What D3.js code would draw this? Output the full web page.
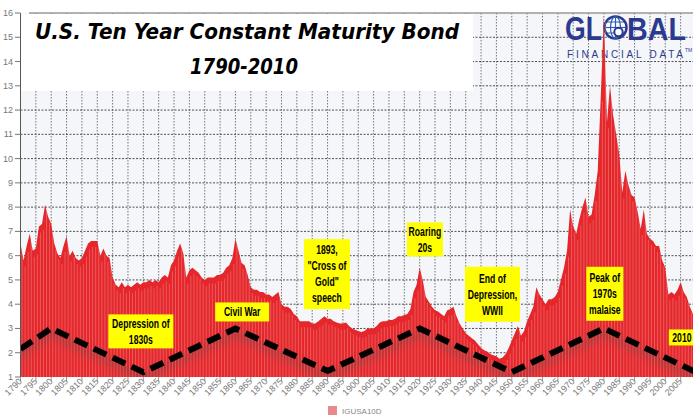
<!DOCTYPE html>
<html>
<head>
<meta charset="utf-8">
<script src="https://cdn.jsdelivr.net/npm/d3@7"></script>
<style>
  body { margin: 0; background: #fff; }
  svg { display: block; font-family: "Liberation Sans", Arial, sans-serif; }
</style>
</head>
<body>
<div id="chart"></div>
<script>
// yearly 10 year yields, 1790 .. 2010
const firstYear = 1790;
const yields = [
  6.5, 5.8, 6.4, 6.9, 6.2, 6.3, 7.2, 7.3, 8.1, 7.6,   // 1790s
  7.3, 6.5, 6.1, 5.9, 6.4, 6.8, 6.0, 6.2, 5.9, 5.8,   // 1800s
  5.9, 6.2, 6.5, 6.6, 6.6, 6.6, 6.0, 6.3, 6.0, 5.9,   // 1810s
  5.1, 4.8, 4.7, 4.9, 4.7, 4.8, 4.7, 4.8, 4.9, 4.8,   // 1820s
  4.9, 4.9, 5.0, 4.9, 5.0, 4.9, 5.1, 5.2, 5.1, 5.6,   // 1830s
  5.8, 6.2, 6.5, 6.1, 5.1, 5.4, 5.5, 5.4, 5.3, 5.1,   // 1840s
  5.0, 5.1, 5.1, 5.1, 5.2, 5.2, 5.3, 5.5, 5.6, 5.9,   // 1850s
  6.7, 6.2, 5.7, 5.6, 5.2, 4.7, 4.6, 4.6, 4.5, 4.5,   // 1860s
  4.4, 4.4, 4.3, 4.4, 4.5, 4.0, 3.9, 3.9, 3.8, 3.6,   // 1870s
  3.5, 3.3, 3.3, 3.3, 3.3, 3.2, 3.2, 3.3, 3.4, 3.5,   // 1880s
  3.4, 3.4, 3.3, 3.25, 3.2, 3.2, 3.25, 3.1, 3.0, 2.95, // 1890s
  2.9, 2.85, 2.9, 3.0, 3.0, 3.0, 3.1, 3.25, 3.3, 3.3, // 1900s
  3.35, 3.35, 3.4, 3.5, 3.5, 3.55, 3.6, 3.8, 4.5, 4.8, // 1910s
  5.5, 5.0, 4.3, 4.1, 3.9, 3.75, 3.7, 3.6, 3.5, 3.75, // 1920s
  3.8, 3.9, 3.5, 3.2, 3.0, 2.8, 2.7, 2.6, 2.5, 2.35,  // 1930s
  2.2, 2.1, 2.05, 1.95, 1.9, 1.85, 1.75, 1.8, 1.95, 2.2, // 1940s
  2.5, 2.8, 3.1, 2.7, 2.9, 3.3, 3.6, 3.9, 4.7, 4.4,   // 1950s
  4.2, 4.0, 4.2, 4.2, 4.3, 4.5, 5.0, 5.5, 6.2, 7.9,   // 1960s
  7.2, 6.9, 7.5, 8.0, 8.4, 7.6, 7.7, 8.5, 9.5, 12.6,  // 1970s
  15.9, 11.5, 13.0, 11.8, 11.0, 10.2, 8.6, 9.5, 8.9, 8.5, // 1980s
  8.4, 7.8, 7.1, 7.9, 6.9, 6.7, 6.6, 6.4, 6.4, 5.8,   // 1990s
  5.5, 4.4, 4.5, 4.4, 4.6, 4.9, 4.5, 4.3, 3.9, 3.6,   // 2000s
  3.4                                                 // 2010
];

const xTickYears = [1790, 1795, 1800, 1805, 1810, 1815, 1820, 1825, 1830, 1835,
  1840, 1845, 1850, 1855, 1860, 1865, 1870, 1875, 1880, 1885, 1890, 1895, 1900,
  1905, 1910, 1915, 1920, 1925, 1930, 1935, 1940, 1945, 1950, 1955, 1960, 1965,
  1970, 1975, 1980, 1985, 1990, 1995, 2000, 2005];
const yTicks = [1, 2, 3, 4, 5, 6, 7, 8, 9, 10, 11, 12, 13, 14, 15, 16];

// the hand drawn dashed cycle line
const cycleYears = [1790, 1800, 1830, 1860, 1890, 1920, 1950, 1980, 2010];
const cycleValues = [2.15, 3.0, 1.2, 3.0, 1.25, 3.0, 1.2, 3.0, 1.2];

// yellow notes: text lines, centre (year, yield), box size in px
const notes = [
  { lines: ["Depression of", "1830s"], year: 1829.2, value: 2.88, w: 65, h: 34 },
  { lines: ["Civil War"], year: 1862.2, value: 3.68, w: 54, h: 19 },
  { lines: ["1893,", "\"Cross of", "Gold\"", "speech"], year: 1889.8, value: 5.24, w: 46, h: 70 },
  { lines: ["Roaring", "20s"], year: 1921.7, value: 6.67, w: 36, h: 34 },
  { lines: ["End of", "Depression,", "WWII"], year: 1943.7, value: 4.41, w: 55, h: 55 },
  { lines: ["Peak of", "1970s", "malaise"], year: 1980.3, value: 4.43, w: 37, h: 54 },
  { lines: ["2010"], year: 2005.4, value: 2.63, w: 26, h: 16 }
];

const series = yields.map((v, i) => ({ year: firstYear + i, value: v }));

const width = 693, height = 419;
const x = d3.scaleLinear().domain([1790, 2010]).range([20.5, 696]);
const y = d3.scaleLinear().domain([1, 16]).range([377, 13]);

const svg = d3.select("#chart").append("svg")
  .attr("width", width)
  .attr("height", height);

const defs = svg.append("defs");
defs.append("filter").attr("id", "soft")
  .attr("x", "-10%").attr("y", "-50%").attr("width", "120%").attr("height", "200%")
  .append("feGaussianBlur").attr("stdDeviation", 3);
defs.append("clipPath").attr("id", "plotClip")
  .append("rect").attr("x", 20.5).attr("y", 0).attr("width", width - 20.5).attr("height", 377);

// plot background
svg.append("rect")
  .attr("x", 20.5).attr("y", 13)
  .attr("width", width - 20.5).attr("height", 364)
  .attr("fill", "#f4f6f9");

// grid
const grid = svg.append("g").attr("class", "grid");
grid.selectAll("line.v")
  .data(xTickYears.slice(1))
  .enter().append("line")
  .attr("class", "v")
  .attr("x1", d => x(d)).attr("x2", d => x(d))
  .attr("y1", 13).attr("y2", 377)
  .attr("stroke", "#444").attr("stroke-opacity", 0.8)
  .attr("stroke-width", 0.9)
  .attr("stroke-dasharray", "1.5,1.5");
grid.selectAll("line.h")
  .data(yTicks.slice(1, -1))
  .enter().append("line")
  .attr("class", "h")
  .attr("x1", 20.5).attr("x2", width)
  .attr("y1", d => y(d)).attr("y2", d => y(d))
  .attr("stroke", "#333").attr("stroke-opacity", 0.85)
  .attr("stroke-width", 1)
  .attr("stroke-dasharray", "2,1.5");

// white block behind the title
svg.append("rect")
  .attr("x", 21).attr("y", 14)
  .attr("width", 452).attr("height", 77)
  .attr("fill", "#ffffff");

// top border
svg.append("line")
  .attr("x1", 29).attr("x2", width)
  .attr("y1", 13).attr("y2", 13)
  .attr("stroke", "#999").attr("stroke-width", 1.5);

// logo
const logo = svg.append("g").attr("fill", "#2b3a8e");
logo.append("text")
  .attr("x", 565).attr("y", 40)
  .attr("font-size", 34).attr("font-weight", "bold")
  .attr("textLength", 37).attr("lengthAdjust", "spacingAndGlyphs")
  .text("GL");
logo.append("text")
  .attr("x", 627).attr("y", 40)
  .attr("font-size", 32).attr("font-weight", "bold")
  .attr("textLength", 59).attr("lengthAdjust", "spacingAndGlyphs")
  .text("BAL");
const globe = logo.append("g").attr("fill", "none").attr("stroke", "#2b5cb0");
globe.append("circle").attr("cx", 615.5).attr("cy", 27.5).attr("r", 11).attr("stroke-width", 2.5).attr("stroke", "#2b3a8e").attr("fill", "#fff");
globe.append("ellipse").attr("cx", 615.5).attr("cy", 27.5).attr("rx", 5).attr("ry", 11).attr("stroke-width", 1.2);
globe.append("line").attr("x1", 615.5).attr("x2", 615.5).attr("y1", 17).attr("y2", 38).attr("stroke-width", 1.2);
globe.append("line").attr("x1", 605).attr("x2", 626).attr("y1", 27.5).attr("y2", 27.5).attr("stroke-width", 1.2);
globe.append("line").attr("x1", 607).attr("x2", 624).attr("y1", 22).attr("y2", 22).attr("stroke-width", 1);
globe.append("line").attr("x1", 607).attr("x2", 624).attr("y1", 33).attr("y2", 33).attr("stroke-width", 1);
globe.append("circle").attr("cx", 618.5).attr("cy", 32).attr("r", 4.2).attr("stroke-width", 2).attr("stroke", "#2b3a8e").attr("fill", "#fff");
logo.append("text")
  .attr("x", 567).attr("y", 58)
  .attr("font-size", 10)
  .attr("textLength", 116).attr("lengthAdjust", "spacing")
  .text("FINANCIAL DATA");
logo.append("text")
  .attr("x", 685).attr("y", 52)
  .attr("font-size", 5)
  .text("TM");

// data area
const plot = svg.append("g").attr("clip-path", "url(#plotClip)");
const area = d3.area()
  .x(d => x(d.year))
  .y0(y(1))
  .y1(d => y(d.value));
plot.append("path")
  .datum(series)
  .attr("d", area)
  .attr("fill", "#e5262a");
plot.selectAll("line.stripe")
  .data(series)
  .enter().append("line")
  .attr("class", "stripe")
  .attr("x1", d => x(d.year) + 1.5).attr("x2", d => x(d.year) + 1.5)
  .attr("y1", y(1)).attr("y2", d => y(d.value) + 6)
  .attr("stroke", "#ffffff").attr("stroke-opacity", 0.3)
  .attr("stroke-width", 0.8);

// dashed cycle line with soft shadow
const cycle = cycleYears.map((yr, i) => ({ year: yr, value: cycleValues[i] }));
const cycleLine = d3.line().x(d => x(d.year)).y(d => y(d.value));
plot.append("path")
  .datum(cycle)
  .attr("d", cycleLine)
  .attr("transform", "translate(0,6)")
  .attr("fill", "none")
  .attr("stroke", "#555").attr("stroke-opacity", 0.3)
  .attr("stroke-width", 7)
  .attr("filter", "url(#soft)");
plot.append("path")
  .datum(cycle)
  .attr("d", cycleLine)
  .attr("fill", "none")
  .attr("stroke", "#000")
  .attr("stroke-width", 6)
  .attr("stroke-dasharray", "14,7");

// axes
svg.append("line")
  .attr("x1", 20.5).attr("x2", 20.5).attr("y1", 13).attr("y2", 377)
  .attr("stroke", "#555").attr("stroke-width", 1);

const yAxis = svg.append("g").attr("font-size", 9).attr("fill", "#777");
yAxis.selectAll("line")
  .data(yTicks)
  .enter().append("line")
  .attr("x1", 15).attr("x2", 20.5)
  .attr("y1", d => y(d)).attr("y2", d => y(d))
  .attr("stroke", "#777");
yAxis.selectAll("text")
  .data(yTicks)
  .enter().append("text")
  .attr("x", 13).attr("y", d => y(d) + 3)
  .attr("text-anchor", "end")
  .text(d => d);

const xAxis = svg.append("g").attr("font-size", 9).attr("fill", "#777");
xAxis.selectAll("line")
  .data(xTickYears)
  .enter().append("line")
  .attr("x1", d => x(d)).attr("x2", d => x(d))
  .attr("y1", 377).attr("y2", 381)
  .attr("stroke", "#999");
xAxis.selectAll("text")
  .data(xTickYears)
  .enter().append("text")
  .attr("text-anchor", "end")
  .attr("transform", d => `translate(${x(d) + 2},${382}) rotate(-45)`)
  .text(d => d);

// notes
const noteG = svg.selectAll("g.note")
  .data(notes)
  .enter().append("g")
  .attr("class", "note")
  .attr("transform", d => `translate(${x(d.year)},${y(d.value)})`);
noteG.append("rect")
  .attr("x", d => -d.w / 2).attr("y", d => -d.h / 2)
  .attr("width", d => d.w).attr("height", d => d.h)
  .attr("fill", "#ffff00");
noteG.each(function (d) {
  const n = d.lines.length;
  const t = d3.select(this).append("text")
    .attr("font-size", 12).attr("font-weight", "bold")
    .attr("text-anchor", "middle")
    .attr("fill", "#000")
    .attr("transform", "scale(0.72,1)");
  d.lines.forEach((line, i) => {
    t.append("tspan")
      .attr("x", 0)
      .attr("y", -(n - 1) * 8 + i * 16 + 4.3)
      .text(line);
  });
});

// title
const title = svg.append("g")
  .attr("font-family", "'DejaVu Sans', sans-serif")
  .attr("font-size", 20.5).attr("font-weight", "bold").attr("font-style", "italic")
  .attr("fill", "#000");
title.append("text")
  .attr("x", 35).attr("y", 39)
  .attr("textLength", 424).attr("lengthAdjust", "spacingAndGlyphs")
  .text("U.S. Ten Year Constant Maturity Bond");
title.append("text")
  .attr("x", 190).attr("y", 74)
  .attr("textLength", 108).attr("lengthAdjust", "spacingAndGlyphs")
  .text("1790-2010");

// legend
svg.append("rect")
  .attr("x", 328).attr("y", 406).attr("width", 9).attr("height", 9)
  .attr("fill", "#e88a8c");
svg.append("text")
  .attr("x", 342).attr("y", 414)
  .attr("font-size", 8).attr("fill", "#888")
  .text("IGUSA10D");
</script>
</body>
</html>
